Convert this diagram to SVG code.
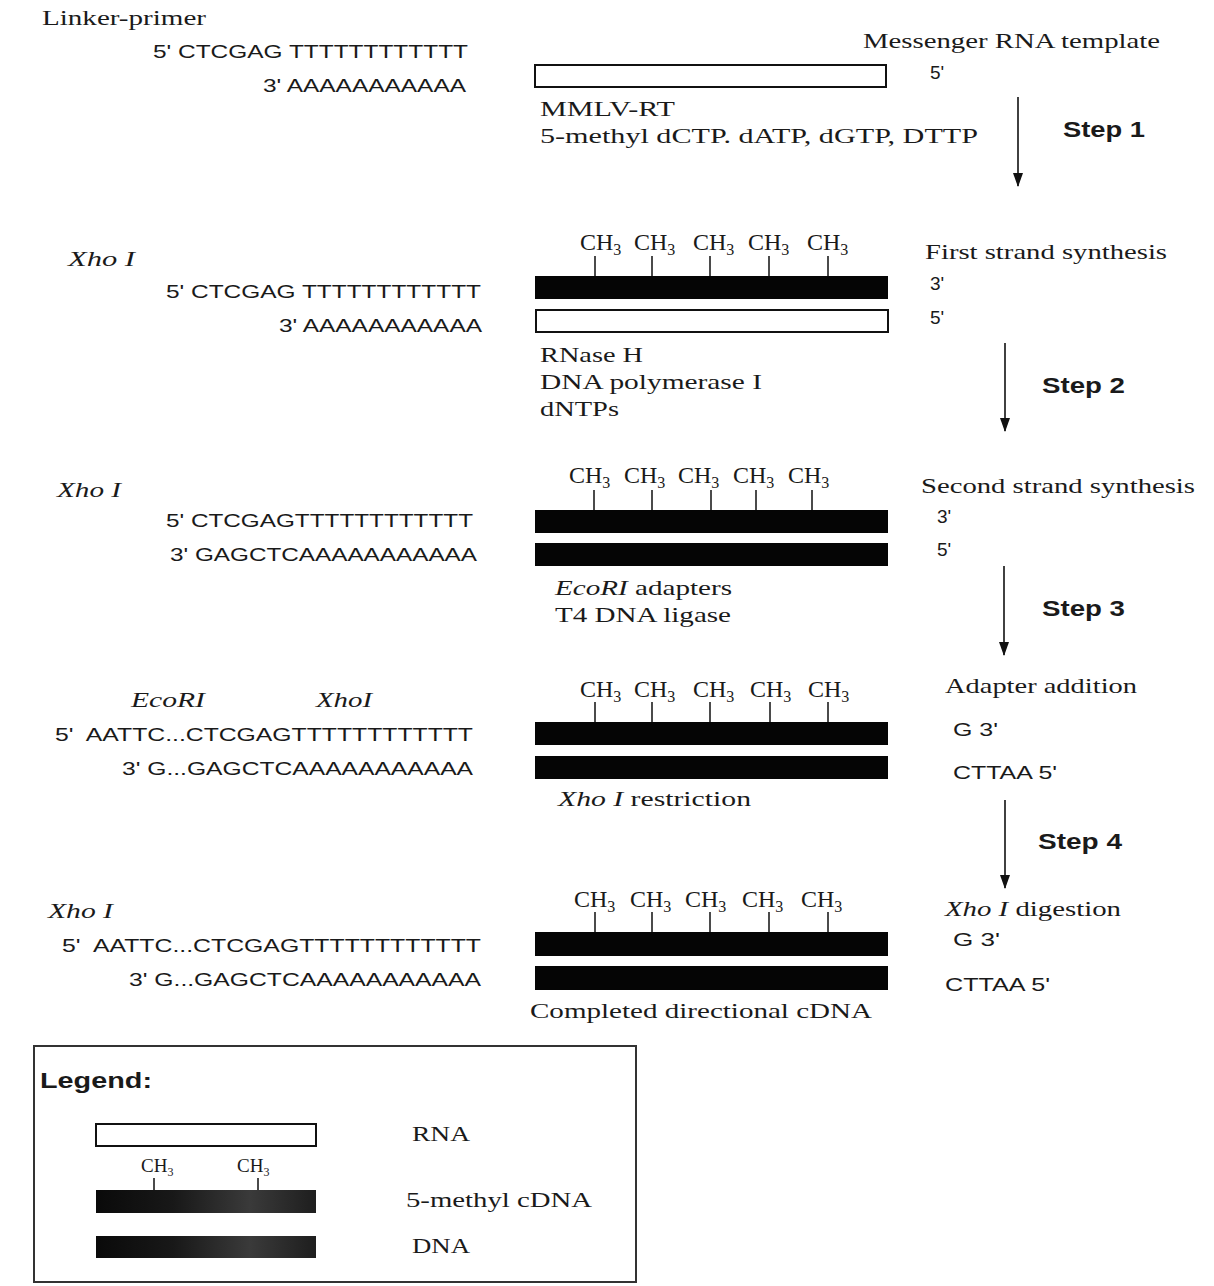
<svg xmlns="http://www.w3.org/2000/svg" width="1214" height="1286" viewBox="0 0 1214 1286">
<style>
.serif{font-family:"Liberation Serif","Times New Roman",serif;font-size:21px;fill:#1a1a1a}
.it{font-style:italic}
.sans{font-family:"Liberation Sans",Arial,sans-serif;font-size:19px;fill:#1a1a1a}
.step{font-family:"Liberation Sans",Arial,sans-serif;font-size:22px;font-weight:bold;fill:#1a1a1a}
.ch{font-family:"Liberation Serif","Times New Roman",serif;font-size:24px;fill:#1a1a1a}
.sub{font-size:16px}
.rna{fill:#fff;stroke:#111;stroke-width:2}
.dna{fill:#050505}
.tick{stroke:#111;stroke-width:1.5}
.arrow{stroke:#111;stroke-width:1.6;fill:none;marker-end:url(#ah)}
</style>
<defs>
<marker id="ah" markerWidth="14" markerHeight="10" refX="13" refY="5" orient="auto" markerUnits="userSpaceOnUse" viewBox="0 0 14 10">
<path d="M0,0 L14,5 L0,10 Z" fill="#111"/>
</marker>
<linearGradient id="lg" x1="0" y1="0" x2="1" y2="0">
<stop offset="0" stop-color="#0a0a0a"/>
<stop offset="0.35" stop-color="#181818"/>
<stop offset="0.7" stop-color="#3a3a3a"/>
<stop offset="1" stop-color="#1e1e1e"/>
</linearGradient>
</defs>
<rect width="1214" height="1286" fill="#fff"/>

<!-- Row 1 -->
<g id="row1">
<text class="serif" x="42" y="25" textLength="164" lengthAdjust="spacingAndGlyphs">Linker-primer</text>
<text class="sans" x="153" y="58" textLength="315" lengthAdjust="spacingAndGlyphs">5' CTCGAG TTTTTTTTTTTT</text>
<text class="sans" x="263" y="92" textLength="203" lengthAdjust="spacingAndGlyphs">3' AAAAAAAAAAA</text>
<rect class="rna" x="535" y="65" width="351" height="22"/>
<text class="serif" x="863" y="48" textLength="297" lengthAdjust="spacingAndGlyphs">Messenger RNA template</text>
<text class="sans" x="930" y="79">5'</text>
<text class="serif" x="540" y="116" textLength="135" lengthAdjust="spacingAndGlyphs">MMLV-RT</text>
<text class="serif" x="540" y="143" textLength="438" lengthAdjust="spacingAndGlyphs">5-methyl dCTP. dATP, dGTP, DTTP</text>
</g>

<!-- Row 2 -->
<g id="row2">
<text class="serif it" x="68" y="266" textLength="67" lengthAdjust="spacingAndGlyphs">Xho I</text>
<text class="sans" x="166" y="298" textLength="315" lengthAdjust="spacingAndGlyphs">5' CTCGAG TTTTTTTTTTTT</text>
<text class="sans" x="279" y="332" textLength="203" lengthAdjust="spacingAndGlyphs">3' AAAAAAAAAAA</text>
<text class="ch" x="580" y="250">CH<tspan class="sub" dy="5">3</tspan></text>
<text class="ch" x="634" y="250">CH<tspan class="sub" dy="5">3</tspan></text>
<text class="ch" x="693" y="250">CH<tspan class="sub" dy="5">3</tspan></text>
<text class="ch" x="748" y="250">CH<tspan class="sub" dy="5">3</tspan></text>
<text class="ch" x="807" y="250">CH<tspan class="sub" dy="5">3</tspan></text>
<path class="tick" d="M595,256V276M652,256V276M710,256V276M769,256V276M828,256V276"/>
<rect class="dna" x="535" y="276" width="353" height="23"/>
<rect class="rna" x="536" y="310" width="352" height="22"/>
<text class="serif" x="925" y="259" textLength="242" lengthAdjust="spacingAndGlyphs">First strand synthesis</text>
<text class="sans" x="930" y="290">3'</text>
<text class="sans" x="930" y="324">5'</text>
<text class="serif" x="540" y="362" textLength="103" lengthAdjust="spacingAndGlyphs">RNase H</text>
<text class="serif" x="540" y="389" textLength="222" lengthAdjust="spacingAndGlyphs">DNA polymerase I</text>
<text class="serif" x="540" y="416" textLength="79" lengthAdjust="spacingAndGlyphs">dNTPs</text>
</g>

<!-- Row 3 -->
<g id="row3">
<text class="serif it" x="57" y="497" textLength="64" lengthAdjust="spacingAndGlyphs">Xho I</text>
<text class="sans" x="166" y="527" textLength="307" lengthAdjust="spacingAndGlyphs">5' CTCGAGTTTTTTTTTTTT</text>
<text class="sans" x="170" y="561" textLength="307" lengthAdjust="spacingAndGlyphs">3' GAGCTCAAAAAAAAAAA</text>
<text class="ch" x="569" y="483">CH<tspan class="sub" dy="5">3</tspan></text>
<text class="ch" x="624" y="483">CH<tspan class="sub" dy="5">3</tspan></text>
<text class="ch" x="678" y="483">CH<tspan class="sub" dy="5">3</tspan></text>
<text class="ch" x="733" y="483">CH<tspan class="sub" dy="5">3</tspan></text>
<text class="ch" x="788" y="483">CH<tspan class="sub" dy="5">3</tspan></text>
<path class="tick" d="M594,490V510M652,490V510M711,490V510M756,490V510M812,490V510"/>
<rect class="dna" x="535" y="510" width="353" height="23"/>
<rect class="dna" x="535" y="543" width="353" height="23"/>
<text class="serif" x="921" y="493" textLength="274" lengthAdjust="spacingAndGlyphs">Second strand synthesis</text>
<text class="sans" x="937" y="523">3'</text>
<text class="sans" x="937" y="556">5'</text>
<text class="serif" x="555" y="595" textLength="177" lengthAdjust="spacingAndGlyphs"><tspan class="it">EcoRI</tspan> adapters</text>
<text class="serif" x="555" y="622" textLength="176" lengthAdjust="spacingAndGlyphs">T4 DNA ligase</text>
</g>

<!-- Row 4 -->
<g id="row4">
<text class="serif it" x="131" y="707" textLength="74" lengthAdjust="spacingAndGlyphs">EcoRI</text>
<text class="serif it" x="316" y="707" textLength="56" lengthAdjust="spacingAndGlyphs">XhoI</text>
<text class="sans" x="55" y="741" textLength="418" lengthAdjust="spacingAndGlyphs">5'&#160; AATTC...CTCGAGTTTTTTTTTTTT</text>
<text class="sans" x="122" y="775" textLength="351" lengthAdjust="spacingAndGlyphs">3' G...GAGCTCAAAAAAAAAAA</text>
<text class="ch" x="580" y="697">CH<tspan class="sub" dy="5">3</tspan></text>
<text class="ch" x="634" y="697">CH<tspan class="sub" dy="5">3</tspan></text>
<text class="ch" x="693" y="697">CH<tspan class="sub" dy="5">3</tspan></text>
<text class="ch" x="750" y="697">CH<tspan class="sub" dy="5">3</tspan></text>
<text class="ch" x="808" y="697">CH<tspan class="sub" dy="5">3</tspan></text>
<path class="tick" d="M595,702V722M652,702V722M710,702V722M770,702V722M828,702V722"/>
<rect class="dna" x="535" y="722" width="353" height="23"/>
<rect class="dna" x="535" y="756" width="353" height="23"/>
<text class="serif" x="945" y="693" textLength="192" lengthAdjust="spacingAndGlyphs">Adapter addition</text>
<text class="sans" x="953" y="736" textLength="45" lengthAdjust="spacingAndGlyphs">G 3'</text>
<text class="sans" x="953" y="779" textLength="104" lengthAdjust="spacingAndGlyphs">CTTAA 5'</text>
<text class="serif" x="558" y="806" textLength="193" lengthAdjust="spacingAndGlyphs"><tspan class="it">Xho I</tspan> restriction</text>
</g>

<!-- Row 5 -->
<g id="row5">
<text class="serif it" x="48" y="918" textLength="65" lengthAdjust="spacingAndGlyphs">Xho I</text>
<text class="sans" x="62" y="952" textLength="419" lengthAdjust="spacingAndGlyphs">5'&#160; AATTC...CTCGAGTTTTTTTTTTTT</text>
<text class="sans" x="129" y="986" textLength="352" lengthAdjust="spacingAndGlyphs">3' G...GAGCTCAAAAAAAAAAA</text>
<text class="ch" x="574" y="907">CH<tspan class="sub" dy="5">3</tspan></text>
<text class="ch" x="630" y="907">CH<tspan class="sub" dy="5">3</tspan></text>
<text class="ch" x="685" y="907">CH<tspan class="sub" dy="5">3</tspan></text>
<text class="ch" x="742" y="907">CH<tspan class="sub" dy="5">3</tspan></text>
<text class="ch" x="801" y="907">CH<tspan class="sub" dy="5">3</tspan></text>
<path class="tick" d="M595,912V932M652,912V932M710,912V932M769,912V932M828,912V932"/>
<rect class="dna" x="535" y="932" width="353" height="24"/>
<rect class="dna" x="535" y="966" width="353" height="24"/>
<text class="serif" x="945" y="916" textLength="176" lengthAdjust="spacingAndGlyphs"><tspan class="it">Xho I</tspan> digestion</text>
<text class="sans" x="953" y="946" textLength="47" lengthAdjust="spacingAndGlyphs">G 3'</text>
<text class="sans" x="945" y="991" textLength="105" lengthAdjust="spacingAndGlyphs">CTTAA 5'</text>
<text class="serif" x="530" y="1018" textLength="342" lengthAdjust="spacingAndGlyphs">Completed directional cDNA</text>
</g>

<!-- Connectors -->
<g id="connectors">
<line class="arrow" x1="1018" y1="97" x2="1018" y2="186"/>
<line class="arrow" x1="1005" y1="343" x2="1005" y2="431"/>
<line class="arrow" x1="1004" y1="566" x2="1004" y2="655"/>
<line class="arrow" x1="1005" y1="800" x2="1005" y2="888"/>
</g>
<g id="steps">
<text class="step" x="1063" y="137" textLength="82" lengthAdjust="spacingAndGlyphs">Step 1</text>
<text class="step" x="1042" y="393" textLength="83" lengthAdjust="spacingAndGlyphs">Step 2</text>
<text class="step" x="1042" y="616" textLength="83" lengthAdjust="spacingAndGlyphs">Step 3</text>
<text class="step" x="1038" y="849" textLength="84" lengthAdjust="spacingAndGlyphs">Step 4</text>
</g>

<!-- Legend -->
<g id="legend">
<rect x="34" y="1046" width="602" height="236" fill="none" stroke="#333" stroke-width="2"/>
<text class="step" x="40" y="1088" textLength="112" lengthAdjust="spacingAndGlyphs">Legend:</text>
<rect class="rna" x="96" y="1124" width="220" height="22" stroke-width="1.5"/>
<text class="serif" x="412" y="1141" textLength="58" lengthAdjust="spacingAndGlyphs">RNA</text>
<text class="ch" x="141" y="1172" style="font-size:19px">CH<tspan style="font-size:12px" dy="4">3</tspan></text>
<text class="ch" x="237" y="1172" style="font-size:19px">CH<tspan style="font-size:12px" dy="4">3</tspan></text>
<path class="tick" d="M154,1178V1190M258,1178V1190"/>
<rect x="96" y="1190" width="220" height="23" fill="url(#lg)"/>
<text class="serif" x="406" y="1207" textLength="186" lengthAdjust="spacingAndGlyphs">5-methyl cDNA</text>
<rect x="96" y="1236" width="220" height="22" fill="url(#lg)"/>
<text class="serif" x="412" y="1253" textLength="58" lengthAdjust="spacingAndGlyphs">DNA</text>
</g>
</svg>
